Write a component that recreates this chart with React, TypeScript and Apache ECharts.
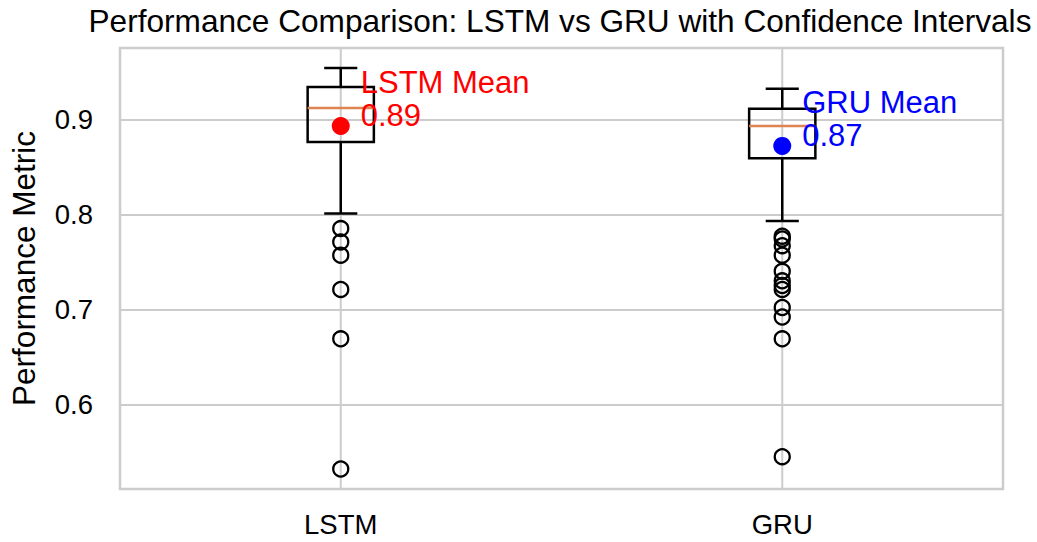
import React, { useEffect, useRef } from "react";
import * as echarts from "echarts";

const categories = ["LSTM", "GRU"];
// [whiskerLow, q1, median, q3, whiskerHigh]
const lstmBox = [0.801, 0.876, 0.912, 0.934, 0.954];
const gruBox = [0.793, 0.859, 0.893, 0.911, 0.932];
const lstmOutliers = [0.785, 0.771, 0.757, 0.721, 0.669, 0.532];
const gruOutliers = [0.777, 0.774, 0.767, 0.757, 0.74, 0.73, 0.725, 0.721, 0.702, 0.692, 0.669, 0.545];
const means = [0.893, 0.872];
const meanLabels = ["LSTM Mean\n0.89", "GRU Mean\n0.87"];
const meanColors = ["#ff0000", "#0000ff"];
const yTicks = [0.6, 0.7, 0.8, 0.9];
const yMin = 0.511;
const yMax = 0.975;

const FONT = "'Liberation Sans', Arial, Helvetica, sans-serif";
const GRID = "#cccccc";

export default function App() {
  const ref = useRef<HTMLDivElement>(null);

  useEffect(() => {
    if (!ref.current) return;
    const chart = echarts.init(ref.current, undefined, { renderer: "svg" });

    const boxData = [
      [0, ...lstmBox],
      [1, ...gruBox],
    ];
    const outlierData: number[][] = [];
    lstmOutliers.forEach((v) => outlierData.push([0, v]));
    gruOutliers.forEach((v) => outlierData.push([1, v]));

    const meanData = means.map((m, i) => ({
      value: [i, m],
      itemStyle: { color: meanColors[i], opacity: 1 },
      label: {
        show: true,
        formatter: meanLabels[i],
        color: meanColors[i],
      },
    }));

    chart.setOption({
      animation: false,
      backgroundColor: "#ffffff",
      textStyle: { fontFamily: FONT },
      graphic: [
        {
          type: "text",
          x: 560,
          y: 21,
          style: {
            text: "Performance Comparison: LSTM vs GRU with Confidence Intervals",
            fontSize: 31.6,
            fontFamily: FONT,
            fill: "#000",
            align: "center",
            verticalAlign: "middle",
          },
        },
      ],
      grid: {
        left: 117,
        right: 34,
        top: 48,
        bottom: 53,
        show: true,
        borderColor: GRID,
        borderWidth: 2.5,
        backgroundColor: "#ffffff",
      },
      xAxis: {
        type: "category",
        data: categories,
        axisLine: { show: false },
        axisTick: { show: false },
        splitLine: { show: false },
        axisLabel: { color: "#000", fontSize: 27.5, fontFamily: FONT, margin: 21 },
      },
      yAxis: {
        type: "value",
        min: yMin,
        max: yMax,
        name: "Performance Metric",
        nameLocation: "middle",
        nameGap: 80,
        nameTextStyle: { color: "#000", fontSize: 31.5, fontFamily: FONT },
        axisLine: { show: false },
        axisTick: { show: false, customValues: yTicks },
        axisLabel: {
          color: "#000",
          fontSize: 27.5,
          fontFamily: FONT,
          margin: 27,
          customValues: yTicks,
          formatter: (v: number) => v.toFixed(1),
        },
        splitLine: { show: true, lineStyle: { color: GRID, width: 2 } },
      },
      series: [
        {
          type: "custom",
          data: boxData,
          encode: { x: 0, y: [1, 2, 3, 4, 5] },
          z: 2,
          renderItem: (params: any, api: any) => {
            const idx = api.value(0);
            const low = api.coord([idx, api.value(1)]);
            const q1 = api.coord([idx, api.value(2)]);
            const med = api.coord([idx, api.value(3)]);
            const q3 = api.coord([idx, api.value(4)]);
            const high = api.coord([idx, api.value(5)]);
            const band = api.size([1, 0])[0];
            const half = (band * 0.15) / 2;
            const capHalf = half / 2;
            const x = low[0];
            const cs = params.coordSys;
            const ls = { stroke: "#000", lineWidth: 2.5 };
            return {
              type: "group",
              children: [
                {
                  type: "line",
                  shape: { x1: x, y1: cs.y, x2: x, y2: cs.y + cs.height },
                  style: { stroke: GRID, lineWidth: 2 },
                },
                { type: "line", shape: { x1: x, y1: low[1], x2: x, y2: q1[1] }, style: ls },
                { type: "line", shape: { x1: x, y1: q3[1], x2: x, y2: high[1] }, style: ls },
                { type: "line", shape: { x1: x - capHalf, y1: low[1], x2: x + capHalf, y2: low[1] }, style: ls },
                { type: "line", shape: { x1: x - capHalf, y1: high[1], x2: x + capHalf, y2: high[1] }, style: ls },
                {
                  type: "rect",
                  shape: { x: x - half, y: q3[1], width: 2 * half, height: q1[1] - q3[1] },
                  style: { fill: "none", stroke: "#000", lineWidth: 2.5 },
                },
                {
                  type: "line",
                  shape: { x1: x - half, y1: med[1], x2: x + half, y2: med[1] },
                  style: { stroke: "#DD8452", lineWidth: 2.5 },
                },
              ],
            };
          },
        },
        {
          type: "scatter",
          data: outlierData,
          symbol: "circle",
          symbolSize: 15,
          z: 3,
          itemStyle: { color: "rgba(255,255,255,0)", borderColor: "#000", borderWidth: 2.3, opacity: 1 },
        },
        {
          type: "scatter",
          data: meanData,
          symbol: "circle",
          symbolSize: 18,
          z: 4,
          label: {
            show: true,
            position: [29, 15],
            align: "left",
            verticalAlign: "bottom",
            fontSize: 31,
            lineHeight: 33,
            fontFamily: FONT,
          },
        },
      ],
    });

    return () => chart.dispose();
  }, []);

  return (
    <div
      ref={ref}
      style={{ position: "absolute", left: 0, top: 0, width: 1037, height: 542 }}
    />
  );
}
